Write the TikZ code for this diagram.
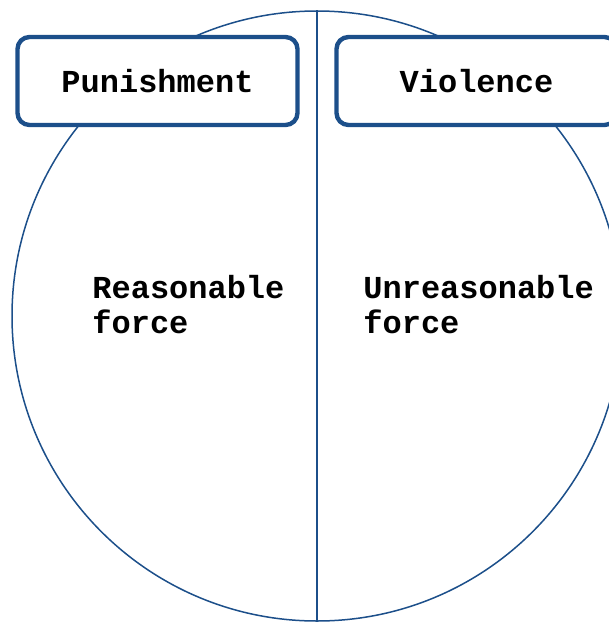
\documentclass[tikz,border=0pt]{standalone}
\usepackage{fontspec}
\setmonofont{Liberation Mono}
\usetikzlibrary{positioning}
\definecolor{rimblue}{RGB}{28,79,138}
\tikzstyle{whole}=[circle,draw=rimblue,line width=0.75pt,inner sep=0pt,minimum size=305pt]
\tikzstyle{tag}=[rectangle,rounded corners=6pt,draw=rimblue,line width=2.2pt,
fill=white,minimum width=140pt,minimum height=44pt,inner sep=0pt,
font=\ttfamily\bfseries\fontsize{16}{17.5}\selectfont]
\tikzstyle{side}=[align=left,inner sep=0pt,
font=\ttfamily\bfseries\fontsize{16}{17.5}\selectfont]

\begin{document}
\begin{tikzpicture}[x=0.5pt,y=-0.5pt]
            \useasboundingbox (0,0) rectangle (609,622);
            \clip (0,0) rectangle (609,622);

            % CIRCLE PART

            \node[whole] (c) at (317,316) {};
            \draw[rimblue,line width=1pt] (c.north) -- (c.south);

            % TAG PART

            \node[tag] (t1) at (157.5,81) {Punishment};
            \node[tag] (t2) at (476.5,81) {Violence};

            % FORCE PART (base is the last line)

            \node[side,anchor=base west] (s1) at (92,333) {Reasonable\\force};
            \node[side,anchor=base west] (s2) at (363,333) {Unreasonable\\force};

\end{tikzpicture}
\end{document}
